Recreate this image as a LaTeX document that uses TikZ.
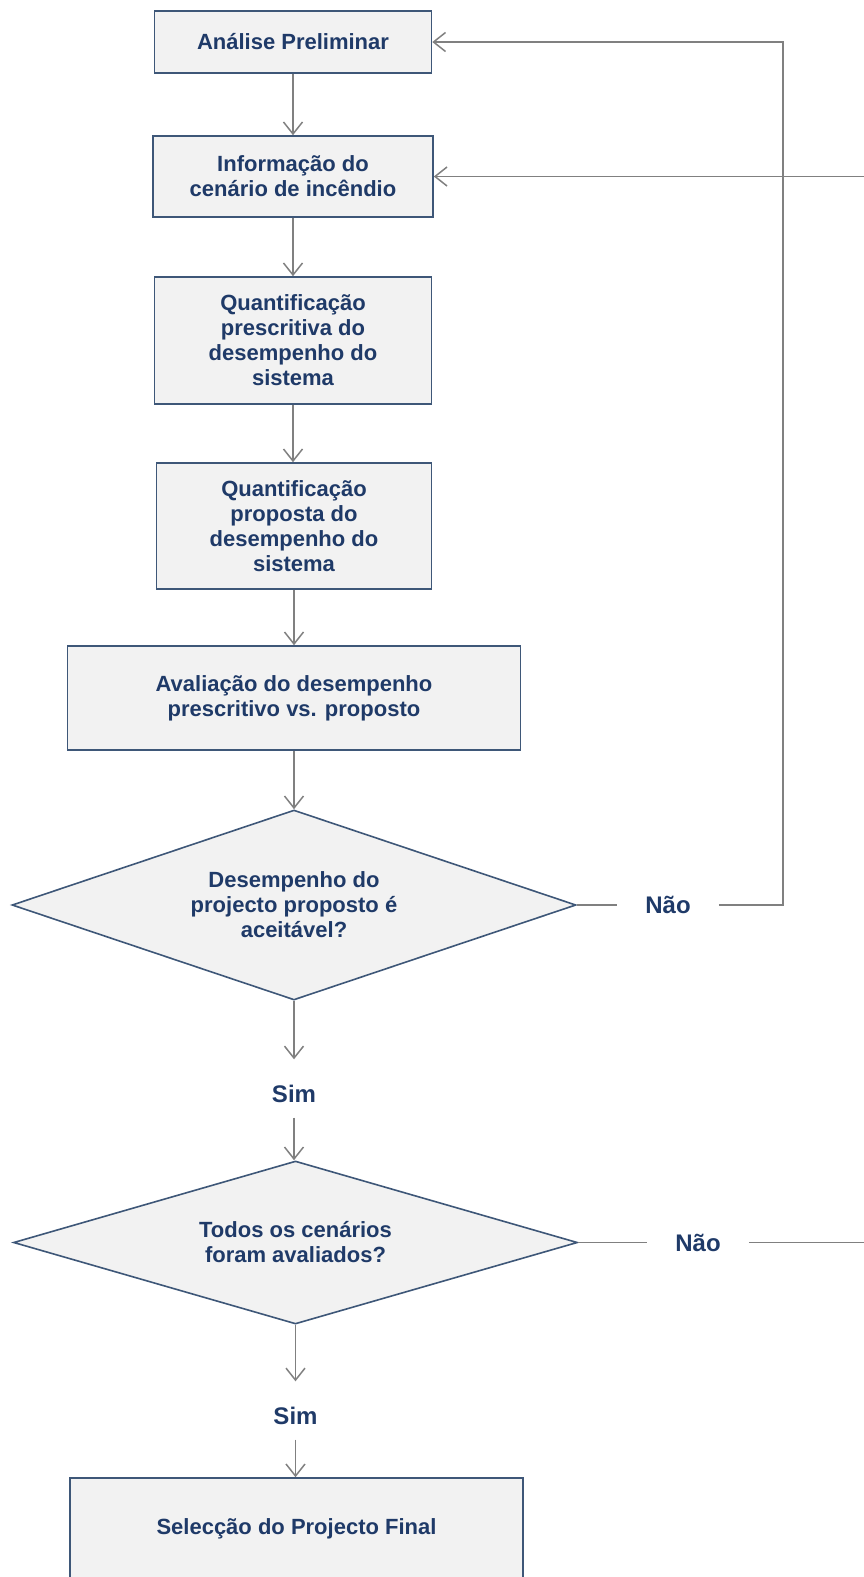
\documentclass[tikz,border=0pt]{standalone}
\usepackage{fontspec}
\setmainfont{Liberation Sans}
\usetikzlibrary{shapes.geometric,arrows.meta}
\definecolor{txtblue}{HTML}{1F3A68}
\definecolor{edgeblue}{HTML}{3E5778}
\definecolor{boxfill}{HTML}{F2F2F2}
\definecolor{linkgray}{HTML}{808080}
\tikzset{
  stepbox/.style={draw=edgeblue, line width=1.6pt, fill=boxfill, inner sep=0pt,
    text=txtblue, font=\bfseries\fontsize{22}{25}\selectfont, align=center},
  decision/.style={diamond, draw=edgeblue, line width=1.6pt, fill=boxfill, inner sep=0pt,
    aspect=2.97, text=txtblue, font=\bfseries\fontsize{22}{25}\selectfont, align=center,
    minimum width=564pt, minimum height=190pt},
  answer/.style={text=txtblue, font=\bfseries\fontsize{24}{27}\selectfont, inner sep=0pt},
  flow/.style={draw=linkgray, line width=1.5pt, -{Straight Barb[length=12pt,width=19pt]}},
  link/.style={draw=linkgray, line width=1.5pt}
}
\begin{document}
\begin{tikzpicture}[x=1pt,y=-1pt]
\useasboundingbox (0,0) rectangle (863,1577);

% process boxes and decisions, all on one vertical axis
\node[stepbox, minimum width=277pt, minimum height=62pt] (b1) at (293,42) {Análise Preliminar};
\node[stepbox, minimum width=280pt, minimum height=81pt] (b2) at (293,176.5) {Informação do\\cenário de incêndio};
\node[stepbox, minimum width=277pt, minimum height=127pt] (b3) at (293,340.5) {Quantificação\\prescritiva do\\desempenho do\\sistema};
\node[stepbox, minimum width=275pt, minimum height=126pt] (b4) at (294,526) {Quantificação\\proposta do\\desempenho do\\sistema};
\node[stepbox, minimum width=453pt, minimum height=104pt] (b5) at (294,698) {Avaliação do desempenho\\prescritivo vs. proposto};
\node[decision] (d1) at (294,905) {Desempenho do\\projecto proposto é\\aceitável?};
\node[answer, anchor=base, text height=43pt, text depth=15pt] (s1) at (294,1102.5) {Sim};
\node[decision, minimum height=163pt] (d2) at (295.5,1242.5) {Todos os cenários\\foram avaliados?};
\node[answer, anchor=base, text height=43pt, text depth=15pt] (s2) at (295.5,1424.5) {Sim};
\node[stepbox, minimum width=453pt, minimum height=102pt] (b6) at (296.5,1529) {Selecção do Projecto Final};

% "Não" labels on the return branches
\node[answer, inner xsep=28pt] (n1) at (668,905) {Não};
\node[answer, inner xsep=28pt] (n2) at (698,1242.5) {Não};
\coordinate (r1) at (783,905);
\coordinate (r2) at (885,1242.5);

% main flow, kept vertical
\draw[flow] (b1.south) -- (b1.south |- b2.north);
\draw[flow] (b2.south) -- (b2.south |- b3.north);
\draw[flow] (b3.south) -- (b3.south |- b4.north);
\draw[flow] (b4.south) -- (b4.south |- b5.north);
\draw[flow] (b5.south) -- (d1.north);
\draw[flow] (d1.south) -- (s1.north);
\draw[flow] (s1.south) -- (s1.south |- d2.north);
\draw[flow] (d2.south) -- (s2.north);
\draw[flow] (s2.south) -- (s2.south |- b6.north);

% return loops
\draw[link] (d1.east) -- (n1.west);
\draw[flow] (n1.east) -- (r1) |- (b1.east);
\draw[link] (d2.east) -- (n2.west);
\draw[flow] (n2.east) -- (r2) |- (b2.east);
\end{tikzpicture}
\end{document}
